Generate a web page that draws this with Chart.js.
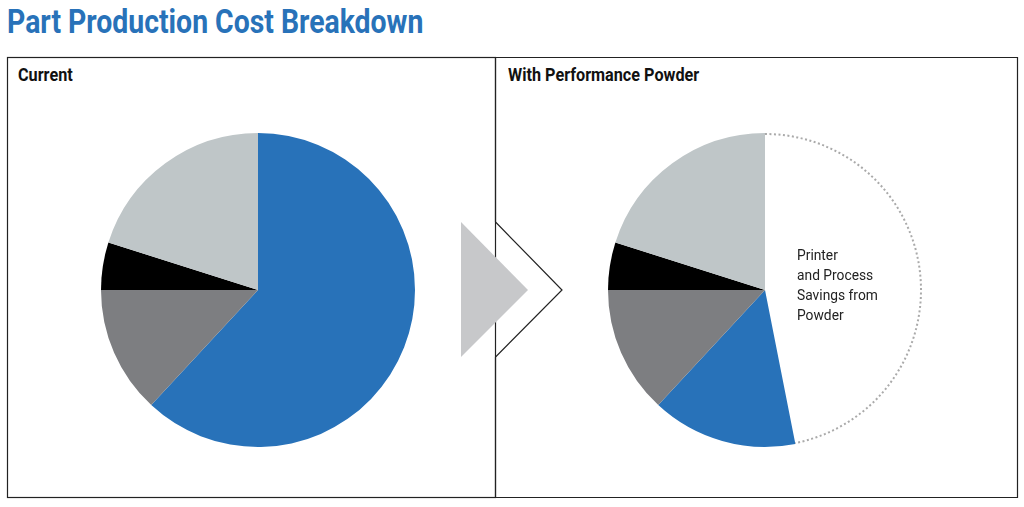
<!DOCTYPE html>
<html><head><meta charset="utf-8">
<script src="https://cdn.jsdelivr.net/npm/chart.js@4"></script>
<style>
body{margin:0;width:1024px;height:507px;background:#fff;position:relative;overflow:hidden;font-family:Roboto,sans-serif}
#title{position:absolute;left:7px;top:2px;font-size:33px;font-weight:700;color:#2872b9;transform:scaleX(0.86);transform-origin:left;white-space:nowrap}
.lbl{position:absolute;top:64px;font-size:18px;font-weight:700;color:#111;transform:scaleX(0.9);transform-origin:left;white-space:nowrap}
.box{position:absolute;width:320px;height:320px;top:130px}
#note{position:absolute;left:797px;top:245px;font-size:15px;line-height:20px;color:#222;transform:scaleX(0.92);transform-origin:left}
</style></head><body>
<div id="title">Part Production Cost Breakdown</div>
<svg width="1024" height="507" style="position:absolute;left:0;top:0">
<rect x="7.5" y="57.5" width="488" height="440" fill="none" stroke="#222" stroke-width="1.2"/>
<polyline points="495.5,57.5 1017.5,57.5 1017.5,497.5 495.5,497.5 495.5,357 562,290 495.5,222 495.5,57.5" fill="none" stroke="#222" stroke-width="1.2"/>
<polygon points="461,222 528,290 461,357" fill="#c7c8ca"/>
</svg>
<div class="lbl" style="left:18px">Current</div>
<div class="lbl" style="left:508px">With Performance Powder</div>
<div class="box" style="left:98px"><canvas id="c1"></canvas></div>
<div class="box" style="left:605px"><canvas id="c2"></canvas></div>
<div id="note">Printer<br>and Process<br>Savings from<br>Powder</div>
<script>
const categories=["Printer and Process","Labor","Other","Material"];
const currentValues=[61.9,13.1,4.9,20.1];
const powderCategories=["Printer and Process Savings from Powder","Printer and Process","Labor","Other","Material"];
const powderValues=[46.9,15.0,13.1,4.9,20.1];
const colors=["#2872b9","#7d7e81","#000000","#bfc6c8"];
const dotted={id:'dotted',afterDatasetsDraw(chart){
  const arc=chart.getDatasetMeta(0).data[0];if(chart.canvas.id!=='c2')return;
  const c=chart.ctx;c.save();c.strokeStyle='#aaa';c.lineWidth=2;c.setLineDash([2,2.5]);
  c.beginPath();c.arc(arc.x,arc.y,arc.outerRadius-1,arc.startAngle,arc.endAngle);c.stroke();c.restore();}};
const opts={responsive:true,maintainAspectRatio:false,animation:false,radius:157,layout:{padding:0},
  plugins:{legend:{display:false},tooltip:{enabled:false}}};
new Chart(document.getElementById('c1'),{type:'pie',data:{labels:categories,datasets:[{data:currentValues,backgroundColor:colors,borderWidth:0}]},options:opts});
new Chart(document.getElementById('c2'),{type:'pie',data:{labels:powderCategories,datasets:[{data:powderValues,backgroundColor:['#ffffff'].concat(colors),borderWidth:0}]},options:opts,plugins:[dotted]});
</script></body></html>
